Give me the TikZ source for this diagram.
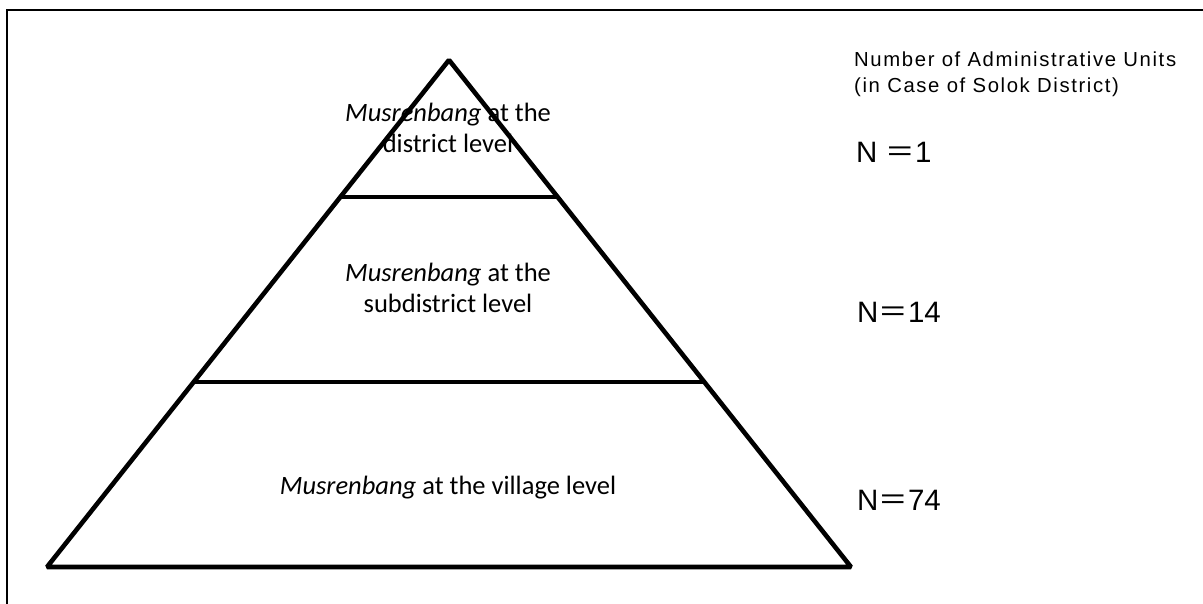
\documentclass[tikz,border=0pt]{standalone}
\usepackage{fontspec}
\usetikzlibrary{calc}
\setmainfont{Carlito}
\newfontfamily\gothic[LetterSpace=8]{Liberation Sans}
\newfontfamily\gothicN{Liberation Sans}
\newfontfamily\cjk{Noto Sans CJK JP}
\begin{document}
\begin{tikzpicture}[x=1pt,y=-1pt,
  edge/.style={line width=4.6pt,line join=bevel,line cap=butt},
  frame/.style={line width=2pt},
  level/.style={font=\fontsize{26.5}{30.5}\selectfont,align=center,inner sep=0pt},
  note/.style={font=\gothic\fontsize{20.3}{26}\selectfont,anchor=base west,inner sep=0pt},
  count/.style={font=\gothicN\fontsize{29.5}{32}\selectfont,anchor=base west,inner sep=0pt}]
\useasboundingbox (0,0) rectangle (1203,603);
% frame (top and left edges visible)
\coordinate (fbl) at (7,610);
\coordinate (ftl) at (7,10);
\coordinate (ftr) at (1210,10);
\draw[frame] (fbl) -- (ftl) -- (ftr);
% pyramid
\coordinate (apex) at (449,60);
\coordinate (bl) at (47,567);
\coordinate (br) at (851,567);
\draw[edge] (apex) -- (bl) -- (br) -- cycle;
\coordinate (l1) at ($(apex)!0.2702!(bl)$);
\coordinate (r1) at ($(apex)!0.2702!(br)$);
\coordinate (l2) at ($(apex)!0.6351!(bl)$);
\coordinate (r2) at ($(apex)!0.6351!(br)$);
\draw[edge] (l1) -- (r1);
\draw[edge] (l2) -- (r2);
% level labels
\node[level] (district) at (448,128) {\textit{Musrenbang} at the\\district level};
\node[level] (subdistrict) at (448,288) {\textit{Musrenbang} at the\\subdistrict level};
\node[level] (village) at (448,488) {\textit{Musrenbang} at the village level};
% right-hand notes
\node[note] (head1) at (854,66.7) {Number of Administrative Units};
\node[note] (head2) at (854,92.7) {(in Case of Solok District)};
\node[count] (n1) at (856,162) {N {\cjk ＝}1};
\node[count] (n14) at (857,322) {N{\cjk ＝}14};
\node[count] (n74) at (857,510) {N{\cjk ＝}74};
\end{tikzpicture}
\end{document}
